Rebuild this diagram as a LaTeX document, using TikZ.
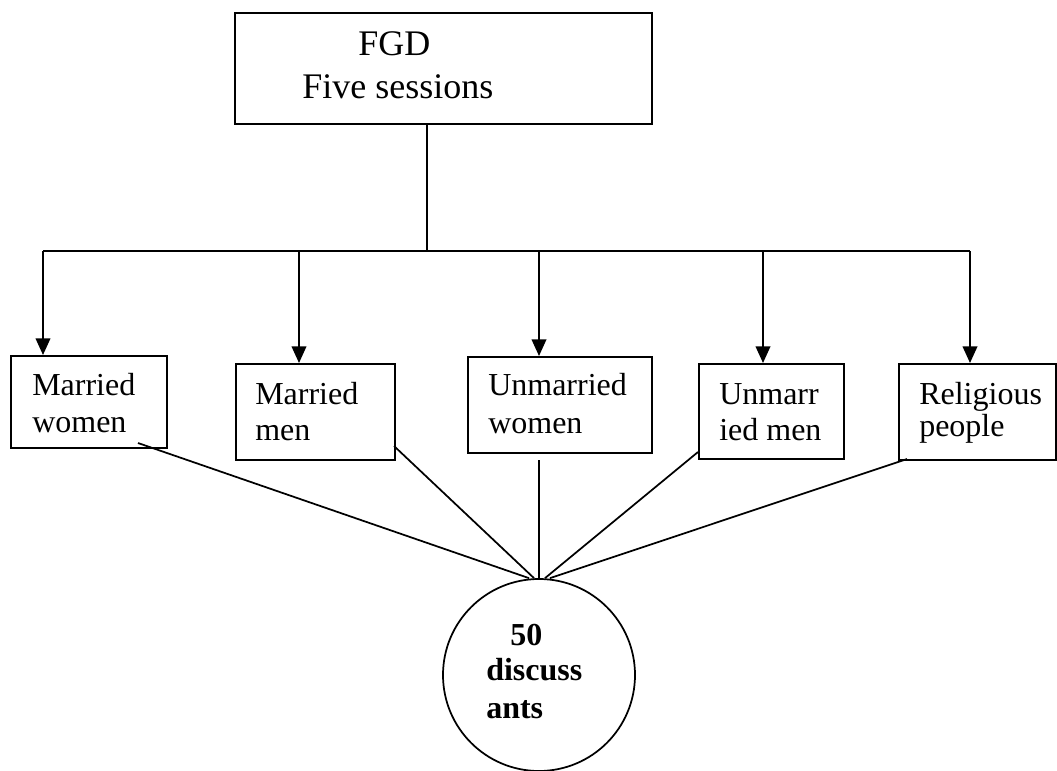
\documentclass[tikz,border=0pt]{standalone}
\usepackage{fontspec}
\setmainfont{Liberation Serif}
\usetikzlibrary{arrows.meta,calc}
\begin{document}
\begin{tikzpicture}[x=0.75pt,y=-0.75pt,
  box/.style={draw,line width=1.3pt,rectangle,anchor=north west,inner sep=0pt},
  lbl/.style={anchor=base west,inner sep=0pt,font=\fontsize{24}{28}\selectfont},
  toplbl/.style={anchor=base west,inner sep=0pt,font=\fontsize{27}{32}\selectfont},
  clbl/.style={anchor=base west,inner sep=0pt,font=\bfseries\fontsize{24}{28}\selectfont},
  conn/.style={line width=1.3pt},
  arr/.style={line width=1.3pt,-{Triangle[length=12.5pt,width=11pt]}}]
\useasboundingbox (0,0) rectangle (1057,771);
% boxes
\node[box,minimum width=312.75pt,minimum height=83.25pt] (top) at (234,12) {};
\node[box,minimum width=117pt,minimum height=69pt] (b1) at (10,355) {};
\node[box,minimum width=119.25pt,minimum height=72pt] (b2) at (235,363) {};
\node[box,minimum width=138pt,minimum height=72pt] (b3) at (467,356) {};
\node[box,minimum width=108.75pt,minimum height=71.25pt] (b4) at (698,363) {};
\node[box,minimum width=117.75pt,minimum height=72pt] (b5) at (898,363) {};
\node[draw,circle,line width=1.3pt,minimum size=144pt,inner sep=0pt] (c) at (539,675) {};
% texts
\node[toplbl] (t1) at (358,55) {FGD};
\node[toplbl] (t2) at (302,98) {Five sessions};
\node[lbl] (l1a) at (32,395) {Married};
\node[lbl] (l1b) at (32,432) {women};
\node[lbl] (l2a) at (255,404) {Married};
\node[lbl] (l2b) at (255,440) {men};
\node[lbl] (l3a) at (488,395) {Unmarried};
\node[lbl] (l3b) at (488,433) {women};
\node[lbl] (l4a) at (719,404) {Unmarr};
\node[lbl] (l4b) at (719,440) {ied men};
\node[lbl] (l5a) at (919,404) {Religious};
\node[lbl] (l5b) at (919,436) {people};
\node[clbl] (ca) at (510,645) {50};
\node[clbl] (cb) at (486,680) {discuss};
\node[clbl] (cc) at (486,718) {ants};
% tree connectors
\coordinate (j) at (427,251);
\coordinate (j1) at (43,251);
\coordinate (j2) at (299,251);
\coordinate (j3) at (539,251);
\coordinate (j4) at (763,251);
\coordinate (j5) at (970,251);
\draw[conn] (top.south -| j) -- (j);
\draw[conn] (j1) -- (j5);
\draw[arr] (j1) -- (j1 |- b1.north);
\draw[arr] (j2) -- (j2 |- b2.north);
\draw[arr] (j3) -- (j3 |- b3.north);
\draw[arr] (j4) -- (j4 |- b4.north);
\draw[arr] (j5) -- (j5 |- b5.north);
% lines to circle
\coordinate (s1) at (138,443);
\coordinate (s2) at (394,446);
\coordinate (s3) at (539,460);
\coordinate (s4) at (698,452);
\coordinate (s5) at (907,459);
\draw[conn] (s1) -- ($(c.north)+(-10,0)$);
\draw[conn] (s2) -- ($(c.north)+(-5,0)$);
\draw[conn] (s3) -- (c.north);
\draw[conn] (s4) -- ($(c.north)+(6,0)$);
\draw[conn] (s5) -- ($(c.north)+(11,0)$);
\end{tikzpicture}
\end{document}
